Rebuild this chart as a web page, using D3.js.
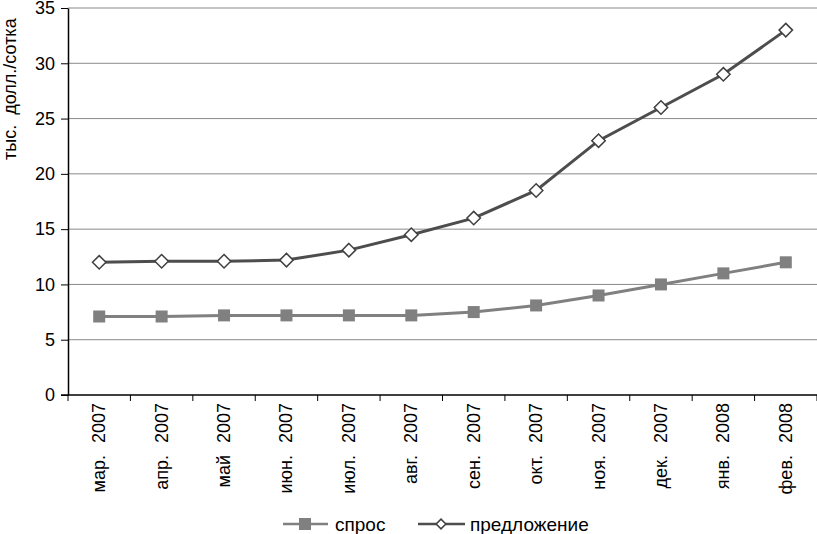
<!DOCTYPE html>
<html>
<head>
<meta charset="utf-8">
<script src="https://cdn.jsdelivr.net/npm/d3@7"></script>
<style>
  body { margin: 0; background: #fff; }
  text { font-family: "Liberation Sans", Arial, sans-serif; fill: #000; }
</style>
</head>
<body>
<div id="chart"></div>
<script>
// data
const months = ["мар. 2007", "апр. 2007", "май 2007", "июн. 2007", "июл. 2007", "авг. 2007",
  "сен. 2007", "окт. 2007", "ноя. 2007", "дек. 2007", "янв. 2008", "фев. 2008"];
const demand = [7.1, 7.1, 7.2, 7.2, 7.2, 7.2, 7.5, 8.1, 9.0, 10.0, 11.0, 12.0];
const supply = [12.0, 12.1, 12.1, 12.2, 13.1, 14.5, 16.0, 18.5, 23.0, 26.0, 29.0, 33.0];
const yTicks = [0, 5, 10, 15, 20, 25, 30, 35];

const width = 817, height = 534;
const margin = {top: 8, right: 0, bottom: 139, left: 68};
const innerW = width - margin.left - margin.right,
  innerH = height - margin.top - margin.bottom;

let svg = d3.select("#chart").append("svg")
  .attr("width", width)
  .attr("height", height);

let g = svg.append("g")
  .attr("transform", "translate(" + margin.left + "," + margin.top + ")");

let x = d3.scaleBand().domain(months).range([0, innerW]);
let y = d3.scaleLinear().domain([0, 35]).range([innerH, 0]);

// gridlines
g.selectAll(".grid")
  .data(yTicks.filter(d => d > 0))
  .enter()
  .append("line")
    .attr("x1", 0)
    .attr("x2", innerW)
    .attr("y1", d => y(d))
    .attr("y2", d => y(d))
    .attr("stroke", "#8a8a8a")
    .attr("stroke-width", 1);

// y axis
let yAxis = g.append("g")
  .call(d3.axisLeft(y).tickValues(yTicks).tickSize(7).tickPadding(6).tickSizeOuter(0));
yAxis.select(".domain").attr("stroke", "#000").attr("stroke-width", 1.5);
yAxis.selectAll(".tick line").attr("stroke", "#000");
yAxis.selectAll("text").style("font-size", "18px");

// x axis: ticks at band edges
let xAxisG = g.append("g").attr("transform", "translate(0," + innerH + ")");
xAxisG.append("line")
  .attr("x1", -7).attr("x2", innerW)
  .attr("stroke", "#000").attr("stroke-width", 1.5);
xAxisG.selectAll(".xt")
  .data(months)
  .enter()
  .append("line")
    .attr("x1", d => x(d) + x.bandwidth())
    .attr("x2", d => x(d) + x.bandwidth())
    .attr("y1", 0)
    .attr("y2", 6)
    .attr("stroke", "#000");
xAxisG.append("line")
  .attr("x1", 0).attr("x2", 0).attr("y1", 0).attr("y2", 6)
  .attr("stroke", "#000");
xAxisG.selectAll(".xl")
  .data(months)
  .enter()
  .append("text")
    .attr("transform", d => "translate(" + (x(d) + x.bandwidth() / 2 + 6) + ",8) rotate(-90)")
    .attr("text-anchor", "end")
    .style("font-size", "18px")
    .style("word-spacing", "7px")
    .text(d => d);

// y axis title (clipped at the top, as in the picture)
svg.append("text")
  .attr("transform", "translate(16,160) rotate(-90)")
  .attr("text-anchor", "start")
  .style("font-size", "18px")
  .style("word-spacing", "5px")
  .text("тыс. долл./сотка");

let cx = (d, i) => x(months[i]) + x.bandwidth() / 2;
let line = d3.line().x((d, i) => cx(d, i)).y(d => y(d));

// спрос
g.append("path")
  .datum(demand)
  .attr("d", line)
  .attr("fill", "none")
  .attr("stroke", "#808080")
  .attr("stroke-width", 3);
g.selectAll(".sq")
  .data(demand)
  .enter()
  .append("rect")
    .attr("x", (d, i) => cx(d, i) - 6)
    .attr("y", d => y(d) - 6)
    .attr("width", 12)
    .attr("height", 12)
    .attr("fill", "#808080");

// предложение
g.append("path")
  .datum(supply)
  .attr("d", line)
  .attr("fill", "none")
  .attr("stroke", "#4d4d4d")
  .attr("stroke-width", 3);
let diamond = d3.symbol().type(d3.symbolDiamond2).size(115);
g.selectAll(".dm")
  .data(supply)
  .enter()
  .append("path")
    .attr("d", diamond)
    .attr("transform", (d, i) => "translate(" + cx(d, i) + "," + y(d) + ")")
    .attr("fill", "#fff")
    .attr("stroke", "#404040")
    .attr("stroke-width", 1.5);

// legend
let leg = svg.append("g").attr("transform", "translate(0,524)");
leg.append("line").attr("x1", 283).attr("x2", 328).attr("stroke", "#808080").attr("stroke-width", 2.5);
leg.append("rect").attr("x", 299).attr("y", -6).attr("width", 12).attr("height", 12).attr("fill", "#808080");
leg.append("text").attr("x", 335).attr("y", 6.5).style("font-size", "19px").text("спрос");
leg.append("line").attr("x1", 418).attr("x2", 465).attr("stroke", "#4d4d4d").attr("stroke-width", 2.5);
leg.append("path").attr("d", d3.symbol().type(d3.symbolDiamond2).size(60))
  .attr("transform", "translate(441,0)")
  .attr("fill", "#fff").attr("stroke", "#404040").attr("stroke-width", 1.5);
leg.append("text").attr("x", 470).attr("y", 6.5).style("font-size", "19px").text("предложение");
</script>
</body>
</html>
